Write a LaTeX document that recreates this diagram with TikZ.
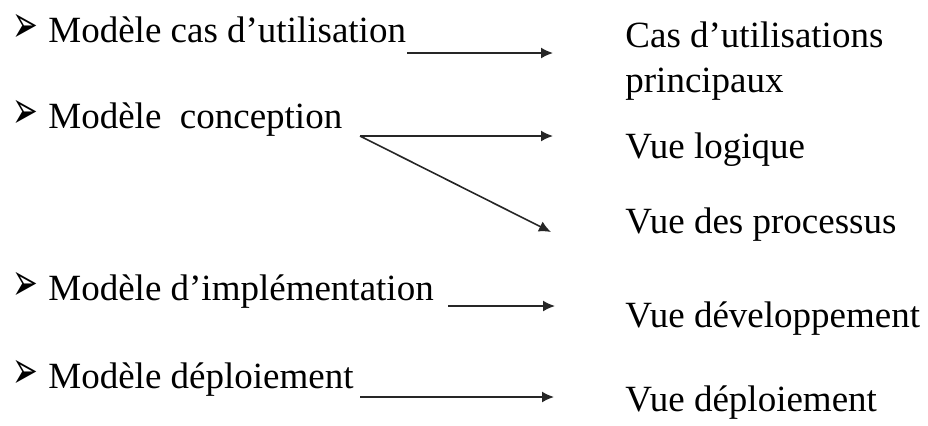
\documentclass[tikz,border=0pt]{standalone}
\usepackage{fontspec}
\usepackage{graphicx}
\setmainfont{Liberation Serif}
\newfontfamily\bulfont{DejaVu Sans}
\usetikzlibrary{arrows.meta}
\begin{document}
\begin{tikzpicture}[x=0.5pt,y=-0.5pt,
  txt/.style={anchor=base west, inner sep=0pt, font=\fontsize{18.5}{22}\selectfont},
  link/.style={line width=0.8pt, -{Latex[length=6pt,width=5.5pt]}, draw=black!85}]
\useasboundingbox (0,0) rectangle (928,425);
\newcommand{\bul}{\makebox[18pt][l]{\scalebox{0.7}[1.2]{\bulfont\fontsize{22}{22}\selectfont ➢}}}
% left column
\node[txt] (m1) at (12,42) {\bul Modèle cas d’utilisation};
\node[txt] (m2) at (12,128) {\bul Modèle~~conception};
\node[txt] (m3) at (12,300) {\bul Modèle d’implémentation};
\node[txt] (m4) at (12,388) {\bul Modèle déploiement};
% right column
\node[txt] (v1) at (625,47) {Cas d’utilisations};
\node[txt] (v1b) at (625,92) {principaux};
\node[txt] (v2) at (625,158) {Vue logique};
\node[txt] (v3) at (625,233) {Vue des processus};
\node[txt] (v4) at (625,327) {Vue développement};
\node[txt] (v5) at (625,411) {Vue déploiement};
% connector ends
\coordinate (s1) at (407,53);  \coordinate (e1) at (553,53);
\coordinate (s2) at (360,136); \coordinate (e2) at (553,136);
\coordinate (e3) at (551,232);
\coordinate (s4) at (448,306); \coordinate (e4) at (555,306);
\coordinate (s5) at (360,397); \coordinate (e5) at (554,397);
\draw[link] (s1) -- (e1);
\draw[link] (s2) -- (e2);
\draw[link] (s2) -- (e3);
\draw[link] (s4) -- (e4);
\draw[link] (s5) -- (e5);
\end{tikzpicture}
\end{document}
